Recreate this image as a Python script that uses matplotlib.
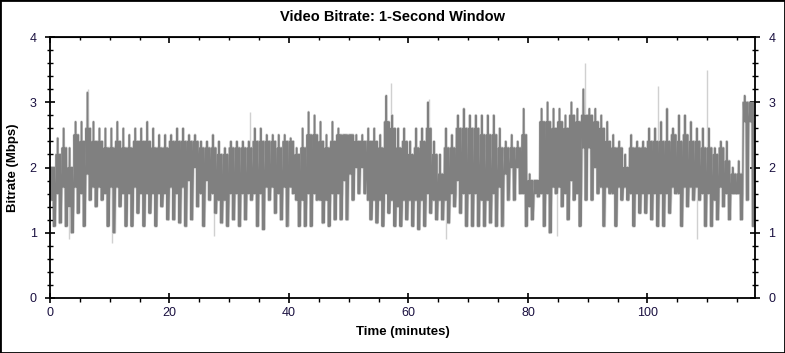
import numpy as np
import matplotlib
matplotlib.use("Agg")
import matplotlib.pyplot as plt
from matplotlib.patches import Rectangle
from matplotlib.ticker import MultipleLocator

plt.rcParams["font.family"] = ["Liberation Sans", "DejaVu Sans"]

# per-minute readings (Mbps): stroke extremes and the dense core band
upper = [2.0, 2.45, 2.6, 2.3, 2.7, 2.7, 3.15, 2.7, 2.6, 2.6, 2.6, 2.7, 2.6, 2.5, 2.6, 2.6, 2.7, 2.6, 2.5, 2.5,
         2.5, 2.6, 2.6, 2.5, 2.5, 2.4, 2.4, 2.5, 2.4, 2.3, 2.4, 2.4, 2.4, 2.4, 2.6, 2.6, 2.5, 2.5, 2.5, 2.5,
         2.45, 2.3, 2.6, 2.85, 2.8, 2.7, 2.5, 2.7, 2.6, 2.5, 2.5, 2.5, 2.5, 2.6, 2.6, 2.5, 3.1, 2.8, 2.6, 2.6,
         2.4, 2.6, 2.6, 3.0, 2.4, 2.2, 2.6, 2.5, 2.8, 2.9, 2.8, 2.8, 2.8, 2.8, 2.8, 2.6, 2.4, 2.5, 2.4, 2.9,
         1.9, 1.8, 2.9, 3.0, 2.9, 2.9, 2.8, 3.0, 2.9, 3.2, 2.9, 2.9, 2.8, 2.7, 2.5, 2.4, 2.2, 2.5, 2.4, 2.4,
         2.6, 2.6, 2.7, 2.9, 2.6, 2.8, 2.8, 2.7, 2.6, 2.6, 2.6, 2.3, 2.4, 2.4, 2.0, 2.1, 3.1, 3.0]
lower = [1.1, 1.15, 1.1, 1.0, 1.3, 1.1, 1.5, 1.4, 1.5, 1.1, 1.0, 1.4, 1.1, 1.1, 1.3, 1.1, 1.3, 1.1, 1.4, 1.2,
         1.2, 1.15, 1.1, 1.2, 1.4, 1.1, 1.5, 1.3, 1.15, 1.1, 1.2, 1.1, 1.2, 1.5, 1.1, 1.05, 1.5, 1.3, 1.2, 1.1,
         1.6, 1.1, 1.1, 1.1, 1.5, 1.15, 1.1, 1.2, 1.2, 1.2, 1.5, 1.6, 1.6, 1.2, 1.15, 1.1, 1.3, 1.1, 1.1, 1.2,
         1.1, 1.05, 1.1, 1.3, 1.2, 1.2, 1.15, 1.4, 1.3, 1.1, 1.1, 1.1, 1.1, 1.15, 1.1, 1.1, 1.5, 1.5, 1.6, 1.1,
         1.2, 1.55, 1.1, 1.0, 1.6, 1.4, 1.2, 1.5, 1.1, 1.5, 1.5, 1.6, 1.1, 1.6, 1.1, 1.5, 1.5, 1.1, 1.3, 1.3,
         1.2, 1.1, 1.1, 1.3, 1.6, 1.1, 1.4, 1.5, 1.5, 1.1, 1.1, 1.2, 1.4, 1.2, 1.6, 1.2, 1.5, 1.1]
core_lo = [1.5, 1.6, 1.7, 1.4, 1.7, 1.6, 1.9, 1.7, 1.7, 1.6, 1.7, 1.7, 1.6, 1.6, 1.7, 1.6, 1.6, 1.6, 1.6, 1.6,
           1.7, 1.6, 1.7, 1.8, 2.0, 1.6, 1.8, 1.6, 1.5, 1.5, 1.6, 1.6, 1.6, 1.6, 1.6, 1.6, 1.7, 1.7, 1.6, 1.7,
           1.7, 1.5, 1.5, 1.6, 1.6, 1.5, 1.5, 1.6, 1.6, 1.8, 1.9, 2.0, 2.0, 1.5, 1.5, 1.5, 1.6, 1.5, 1.4, 1.5,
           1.5, 1.5, 1.5, 1.6, 1.5, 1.5, 1.5, 1.6, 1.8, 1.6, 1.6, 1.6, 1.5, 1.5, 1.6, 1.7, 1.9, 2.0, 2.0, 1.6,
           1.4, 1.6, 1.6, 1.6, 1.7, 1.7, 1.6, 1.8, 1.6, 2.3, 2.3, 2.0, 1.7, 1.7, 1.6, 1.7, 1.7, 1.6, 1.6, 1.6,
           1.6, 1.6, 1.6, 1.6, 1.7, 1.6, 1.7, 1.7, 1.7, 1.6, 1.6, 1.5, 1.7, 1.6, 1.6, 1.6, 2.7, 2.7]
core_hi = [2.0, 2.2, 2.3, 2.0, 2.5, 2.4, 2.6, 2.4, 2.4, 2.3, 2.3, 2.4, 2.3, 2.3, 2.4, 2.4, 2.4, 2.3, 2.3, 2.3,
           2.4, 2.4, 2.4, 2.4, 2.4, 2.3, 2.3, 2.3, 2.2, 2.2, 2.3, 2.3, 2.3, 2.3, 2.4, 2.4, 2.4, 2.4, 2.3, 2.4,
           2.4, 2.2, 2.3, 2.5, 2.5, 2.4, 2.3, 2.4, 2.5, 2.5, 2.5, 2.4, 2.4, 2.4, 2.4, 2.3, 2.7, 2.6, 2.3, 2.4,
           2.2, 2.3, 2.4, 2.6, 2.2, 1.9, 2.3, 2.3, 2.6, 2.6, 2.6, 2.6, 2.5, 2.5, 2.5, 2.3, 2.3, 2.3, 2.3, 2.5,
           1.8, 1.8, 2.7, 2.7, 2.6, 2.7, 2.6, 2.8, 2.7, 2.8, 2.8, 2.7, 2.6, 2.4, 2.3, 2.3, 2.0, 2.3, 2.3, 2.3,
           2.4, 2.4, 2.4, 2.4, 2.5, 2.4, 2.5, 2.4, 2.4, 2.3, 2.3, 2.2, 2.3, 2.1, 1.9, 1.9, 3.0, 3.0]
# isolated thin peaks/dips (minute, Mbps)
peak_t = [6.3, 33.5, 57.0, 63.5, 89.5, 101.8, 110.0]
peak_v = [3.2, 2.85, 3.3, 3.05, 3.6, 3.25, 3.5]
dip_t = [3.2, 10.4, 27.5, 66.2, 84.8, 108.3]
dip_v = [0.9, 0.85, 0.95, 0.9, 0.95, 0.9]

dark = "#808080"
light = "#d0d0d0"
lab_col = "#1a1040"

fig = plt.figure(figsize=(7.85, 3.53), dpi=100)
ax = fig.add_axes([50 / 785, 55 / 353, 705 / 785, 261 / 353])

# trace each minute as a zigzag through its readings
pattern = np.column_stack([core_hi, core_lo, upper, core_lo, core_hi, lower, core_hi, lower, core_lo])
k = pattern.shape[1]
xs = (np.arange(len(upper))[:, None] + (np.arange(k) + 0.5) / k).ravel()
ys = pattern.ravel()

ax.vlines(peak_t, 2.0, peak_v, color=light, lw=1.0, zorder=1)
ax.vlines(dip_t, dip_v, 1.8, color=light, lw=1.0, zorder=1)
ax.plot(xs, ys, color=light, lw=2.0, zorder=1)
ax.plot(xs, ys, color=dark, lw=1.0, zorder=2)

ax.set_xlim(0, 118)
ax.set_ylim(0, 4)
ax.xaxis.set_major_locator(MultipleLocator(20))
ax.xaxis.set_minor_locator(MultipleLocator(5))
ax.yaxis.set_major_locator(MultipleLocator(1))
ax.yaxis.set_minor_locator(MultipleLocator(0.2))

for s in ax.spines.values():
    s.set_linewidth(1.3)

ax.tick_params(axis="y", which="major", direction="inout", length=7, width=1.2,
               left=True, right=True, labelleft=True, labelright=True,
               labelsize=9, labelcolor=lab_col, pad=6)
ax.tick_params(axis="y", which="minor", direction="inout", length=4, width=1.0,
               left=True, right=True)
ax.tick_params(axis="x", which="major", direction="inout", length=7, width=1.2,
               labelsize=9, labelcolor=lab_col, pad=3)
ax.tick_params(axis="x", which="minor", direction="out", length=3, width=1.0)

top = ax.secondary_xaxis("top")
top.xaxis.set_major_locator(MultipleLocator(20))
top.xaxis.set_minor_locator(MultipleLocator(5))
top.tick_params(which="major", direction="in", length=4, width=1.2, labeltop=False)
top.tick_params(which="minor", direction="in", length=2.5, width=1.0)

ax.set_xlabel("Time (minutes)", fontsize=9.5, fontweight="bold", labelpad=5)
ax.set_ylabel("Bitrate (Mbps)", fontsize=9.5, fontweight="bold", labelpad=8)
fig.text(0.5, 0.952, "Video Bitrate: 1-Second Window", ha="center", va="center",
         fontsize=10.5, fontweight="bold")

fig.patches.append(Rectangle((0, 0), 1, 1, transform=fig.transFigure, fill=False,
                             edgecolor="black", lw=2))

fig.savefig("out.png", dpi=100)
